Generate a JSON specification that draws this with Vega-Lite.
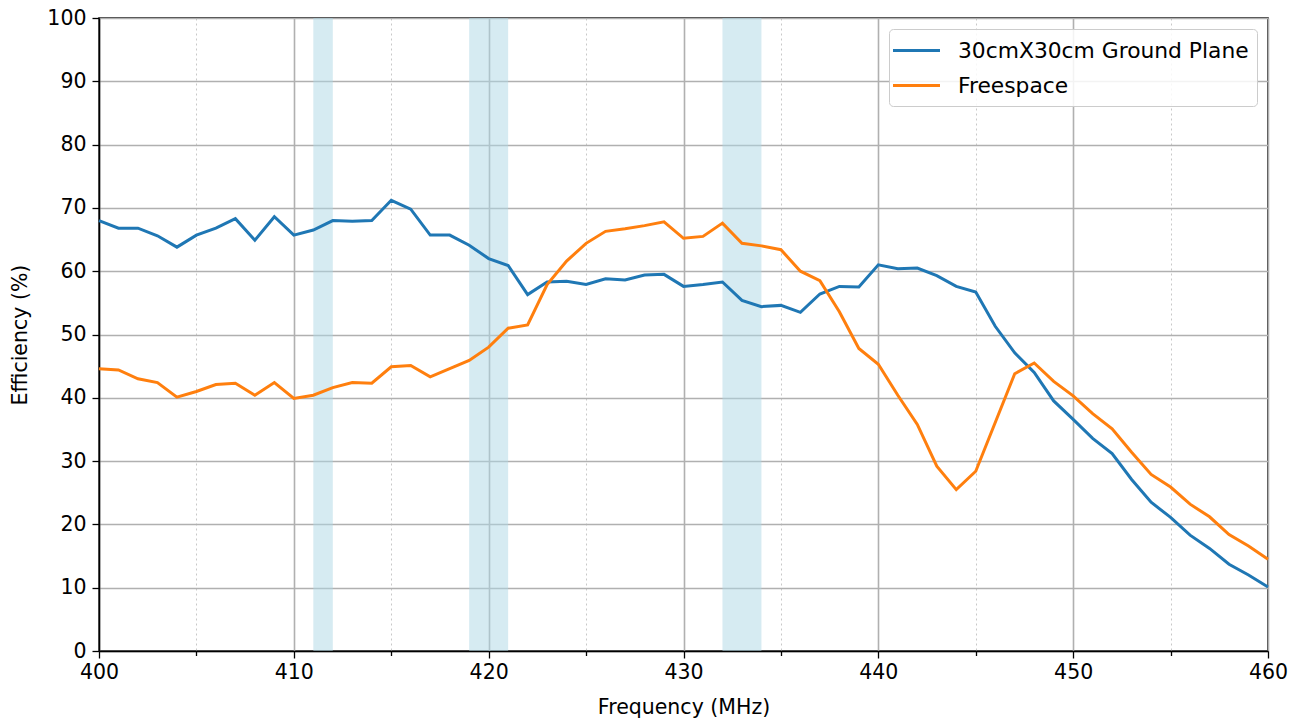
{
  "$schema": "https://vega.github.io/schema/vega-lite/v6.json",
  "width": 1169,
  "height": 633,
  "autosize": {"type": "none"},
  "padding": {"left": 99, "top": 18, "right": 34, "bottom": 73},
  "background": "white",
  "config": {
    "font": "DejaVu Sans",
    "view": {"stroke": "black", "strokeWidth": 1.5},
    "axis": {
      "labelFont": "DejaVu Sans",
      "titleFont": "DejaVu Sans",
      "labelFontSize": 20.5,
      "titleFontSize": 20.5,
      "titleFontWeight": "normal",
      "labelColor": "black",
      "titleColor": "black",
      "domainColor": "black",
      "domainWidth": 1.5,
      "tickColor": "black",
      "tickWidth": 1.3,
      "gridColor": "#b0b0b0",
      "gridWidth": 1.6
    },
    "legend": {
      "labelFont": "DejaVu Sans",
      "labelFontSize": 21.8,
      "labelColor": "black"
    }
  },
  "datasets": {
    "bands": [
      {"start": 411, "end": 412},
      {"start": 419, "end": 421},
      {"start": 432, "end": 434}
    ]
  },
  "layer": [
    {
      "data": {"name": "bands"},
      "mark": {"type": "rect", "color": "#add8e6", "opacity": 0.5},
      "encoding": {
        "x": {"field": "start", "type": "quantitative"},
        "x2": {"field": "end"}
      }
    },
    {
      "data": {
        "values": [
          {"f": 400, "s": "30cmX30cm Ground Plane", "v": 68.0},
          {"f": 401, "s": "30cmX30cm Ground Plane", "v": 66.8},
          {"f": 402, "s": "30cmX30cm Ground Plane", "v": 66.8},
          {"f": 403, "s": "30cmX30cm Ground Plane", "v": 65.6},
          {"f": 404, "s": "30cmX30cm Ground Plane", "v": 63.8},
          {"f": 405, "s": "30cmX30cm Ground Plane", "v": 65.7},
          {"f": 406, "s": "30cmX30cm Ground Plane", "v": 66.8},
          {"f": 407, "s": "30cmX30cm Ground Plane", "v": 68.3},
          {"f": 408, "s": "30cmX30cm Ground Plane", "v": 64.9},
          {"f": 409, "s": "30cmX30cm Ground Plane", "v": 68.6},
          {"f": 410, "s": "30cmX30cm Ground Plane", "v": 65.7},
          {"f": 411, "s": "30cmX30cm Ground Plane", "v": 66.5},
          {"f": 412, "s": "30cmX30cm Ground Plane", "v": 68.0},
          {"f": 413, "s": "30cmX30cm Ground Plane", "v": 67.9},
          {"f": 414, "s": "30cmX30cm Ground Plane", "v": 68.0},
          {"f": 415, "s": "30cmX30cm Ground Plane", "v": 71.2},
          {"f": 416, "s": "30cmX30cm Ground Plane", "v": 69.8},
          {"f": 417, "s": "30cmX30cm Ground Plane", "v": 65.7},
          {"f": 418, "s": "30cmX30cm Ground Plane", "v": 65.7},
          {"f": 419, "s": "30cmX30cm Ground Plane", "v": 64.1},
          {"f": 420, "s": "30cmX30cm Ground Plane", "v": 62.0},
          {"f": 421, "s": "30cmX30cm Ground Plane", "v": 60.9},
          {"f": 422, "s": "30cmX30cm Ground Plane", "v": 56.3},
          {"f": 423, "s": "30cmX30cm Ground Plane", "v": 58.3},
          {"f": 424, "s": "30cmX30cm Ground Plane", "v": 58.4},
          {"f": 425, "s": "30cmX30cm Ground Plane", "v": 57.9},
          {"f": 426, "s": "30cmX30cm Ground Plane", "v": 58.8},
          {"f": 427, "s": "30cmX30cm Ground Plane", "v": 58.6},
          {"f": 428, "s": "30cmX30cm Ground Plane", "v": 59.4},
          {"f": 429, "s": "30cmX30cm Ground Plane", "v": 59.5},
          {"f": 430, "s": "30cmX30cm Ground Plane", "v": 57.6},
          {"f": 431, "s": "30cmX30cm Ground Plane", "v": 57.9},
          {"f": 432, "s": "30cmX30cm Ground Plane", "v": 58.3},
          {"f": 433, "s": "30cmX30cm Ground Plane", "v": 55.4},
          {"f": 434, "s": "30cmX30cm Ground Plane", "v": 54.4},
          {"f": 435, "s": "30cmX30cm Ground Plane", "v": 54.6},
          {"f": 436, "s": "30cmX30cm Ground Plane", "v": 53.5},
          {"f": 437, "s": "30cmX30cm Ground Plane", "v": 56.4},
          {"f": 438, "s": "30cmX30cm Ground Plane", "v": 57.6},
          {"f": 439, "s": "30cmX30cm Ground Plane", "v": 57.5},
          {"f": 440, "s": "30cmX30cm Ground Plane", "v": 61.0},
          {"f": 441, "s": "30cmX30cm Ground Plane", "v": 60.4},
          {"f": 442, "s": "30cmX30cm Ground Plane", "v": 60.5},
          {"f": 443, "s": "30cmX30cm Ground Plane", "v": 59.3},
          {"f": 444, "s": "30cmX30cm Ground Plane", "v": 57.6},
          {"f": 445, "s": "30cmX30cm Ground Plane", "v": 56.7},
          {"f": 446, "s": "30cmX30cm Ground Plane", "v": 51.3},
          {"f": 447, "s": "30cmX30cm Ground Plane", "v": 47.1},
          {"f": 448, "s": "30cmX30cm Ground Plane", "v": 44.0},
          {"f": 449, "s": "30cmX30cm Ground Plane", "v": 39.5},
          {"f": 450, "s": "30cmX30cm Ground Plane", "v": 36.6},
          {"f": 451, "s": "30cmX30cm Ground Plane", "v": 33.6},
          {"f": 452, "s": "30cmX30cm Ground Plane", "v": 31.2},
          {"f": 453, "s": "30cmX30cm Ground Plane", "v": 27.1},
          {"f": 454, "s": "30cmX30cm Ground Plane", "v": 23.5},
          {"f": 455, "s": "30cmX30cm Ground Plane", "v": 21.1},
          {"f": 456, "s": "30cmX30cm Ground Plane", "v": 18.3},
          {"f": 457, "s": "30cmX30cm Ground Plane", "v": 16.2},
          {"f": 458, "s": "30cmX30cm Ground Plane", "v": 13.7},
          {"f": 459, "s": "30cmX30cm Ground Plane", "v": 12.0},
          {"f": 460, "s": "30cmX30cm Ground Plane", "v": 10.1},
          {"f": 400, "s": "Freespace", "v": 44.6},
          {"f": 401, "s": "Freespace", "v": 44.4},
          {"f": 402, "s": "Freespace", "v": 43.0},
          {"f": 403, "s": "Freespace", "v": 42.4},
          {"f": 404, "s": "Freespace", "v": 40.1},
          {"f": 405, "s": "Freespace", "v": 41.0},
          {"f": 406, "s": "Freespace", "v": 42.1},
          {"f": 407, "s": "Freespace", "v": 42.3},
          {"f": 408, "s": "Freespace", "v": 40.4},
          {"f": 409, "s": "Freespace", "v": 42.4},
          {"f": 410, "s": "Freespace", "v": 39.9},
          {"f": 411, "s": "Freespace", "v": 40.4},
          {"f": 412, "s": "Freespace", "v": 41.6},
          {"f": 413, "s": "Freespace", "v": 42.4},
          {"f": 414, "s": "Freespace", "v": 42.3},
          {"f": 415, "s": "Freespace", "v": 44.9},
          {"f": 416, "s": "Freespace", "v": 45.1},
          {"f": 417, "s": "Freespace", "v": 43.3},
          {"f": 418, "s": "Freespace", "v": 44.6},
          {"f": 419, "s": "Freespace", "v": 45.9},
          {"f": 420, "s": "Freespace", "v": 48.0},
          {"f": 421, "s": "Freespace", "v": 51.0},
          {"f": 422, "s": "Freespace", "v": 51.5},
          {"f": 423, "s": "Freespace", "v": 57.9},
          {"f": 424, "s": "Freespace", "v": 61.6},
          {"f": 425, "s": "Freespace", "v": 64.4},
          {"f": 426, "s": "Freespace", "v": 66.3},
          {"f": 427, "s": "Freespace", "v": 66.7},
          {"f": 428, "s": "Freespace", "v": 67.2},
          {"f": 429, "s": "Freespace", "v": 67.8},
          {"f": 430, "s": "Freespace", "v": 65.2},
          {"f": 431, "s": "Freespace", "v": 65.5},
          {"f": 432, "s": "Freespace", "v": 67.6},
          {"f": 433, "s": "Freespace", "v": 64.4},
          {"f": 434, "s": "Freespace", "v": 64.0},
          {"f": 435, "s": "Freespace", "v": 63.4},
          {"f": 436, "s": "Freespace", "v": 60.0},
          {"f": 437, "s": "Freespace", "v": 58.5},
          {"f": 438, "s": "Freespace", "v": 53.6},
          {"f": 439, "s": "Freespace", "v": 47.8},
          {"f": 440, "s": "Freespace", "v": 45.3},
          {"f": 441, "s": "Freespace", "v": 40.4},
          {"f": 442, "s": "Freespace", "v": 35.8},
          {"f": 443, "s": "Freespace", "v": 29.2},
          {"f": 444, "s": "Freespace", "v": 25.5},
          {"f": 445, "s": "Freespace", "v": 28.4},
          {"f": 446, "s": "Freespace", "v": 36.1},
          {"f": 447, "s": "Freespace", "v": 43.8},
          {"f": 448, "s": "Freespace", "v": 45.5},
          {"f": 449, "s": "Freespace", "v": 42.6},
          {"f": 450, "s": "Freespace", "v": 40.3},
          {"f": 451, "s": "Freespace", "v": 37.5},
          {"f": 452, "s": "Freespace", "v": 35.1},
          {"f": 453, "s": "Freespace", "v": 31.4},
          {"f": 454, "s": "Freespace", "v": 27.9},
          {"f": 455, "s": "Freespace", "v": 25.9},
          {"f": 456, "s": "Freespace", "v": 23.2},
          {"f": 457, "s": "Freespace", "v": 21.2},
          {"f": 458, "s": "Freespace", "v": 18.4},
          {"f": 459, "s": "Freespace", "v": 16.6},
          {"f": 460, "s": "Freespace", "v": 14.5}
        ]
      },
      "mark": {"type": "line", "strokeWidth": 3},
      "encoding": {
        "x": {
          "field": "f",
          "type": "quantitative",
          "title": "Frequency (MHz)",
          "scale": {"domain": [400, 460], "nice": false, "zero": false},
          "axis": {
            "values": [400, 405, 410, 415, 420, 425, 430, 435, 440, 445, 450, 455, 460],
            "labelExpr": "datum.value % 10 === 0 ? datum.label : ''",
            "tickSize": {"condition": {"test": "datum.value % 10 === 0", "value": 7}, "value": 4.5},
            "gridDash": {"condition": {"test": "datum.value % 10 === 0", "value": []}, "value": [2, 3]},
            "gridColor": {"condition": {"test": "datum.value % 10 === 0", "value": "#b0b0b0"}, "value": "#c8c8c8"},
            "gridWidth": {"condition": {"test": "datum.value % 10 === 0", "value": 1.6}, "value": 1},
            "labelPadding": 4,
            "titlePadding": 15,
            "labelFlush": false
          }
        },
        "y": {
          "field": "v",
          "type": "quantitative",
          "title": "Efficiency (%)",
          "scale": {"domain": [0, 100], "nice": false},
          "axis": {
            "values": [0, 10, 20, 30, 40, 50, 60, 70, 80, 90, 100],
            "tickSize": 7,
            "labelPadding": 6,
            "titlePadding": 16
          }
        },
        "color": {
          "field": "s",
          "type": "nominal",
          "scale": {
            "domain": ["30cmX30cm Ground Plane", "Freespace"],
            "range": ["#1f77b4", "#ff7f0e"]
          },
          "legend": {
            "title": null,
            "orient": "top-right",
            "offset": 11,
            "symbolType": "M-2,0H2",
            "symbolSize": 552,
            "symbolStrokeWidth": 3,
            "symbolOffset": 6,
            "labelOffset": 28,
            "labelLimit": 500,
            "rowPadding": 9,
            "padding": 8,
            "fillColor": "rgba(255,255,255,0.85)",
            "strokeColor": "#cccccc",
            "cornerRadius": 4
          }
        }
      }
    }
  ]
}
